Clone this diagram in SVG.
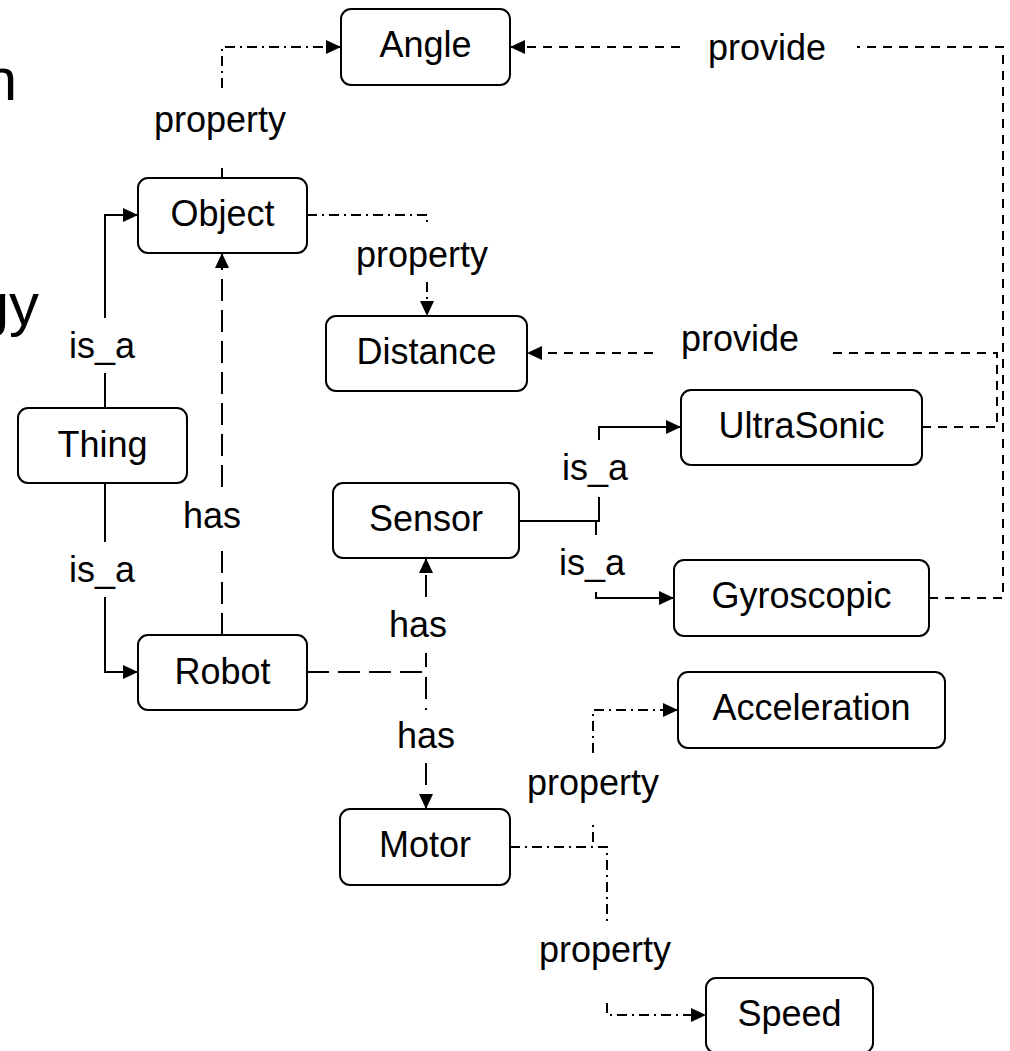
<svg xmlns="http://www.w3.org/2000/svg" width="1010" height="1051" viewBox="0 0 1010 1051">
  <style>
    text { font-family: "Liberation Sans", Arial, sans-serif; fill: #000; }
    .node rect { fill: #fff; stroke: #000; stroke-width: 2; }
    .node text { font-size: 36px; text-anchor: middle; }
    .lbl { font-size: 36px; text-anchor: middle; }
    .big { font-size: 60px; text-anchor: end; }
    .edge { fill: none; stroke: #000; stroke-width: 2; }
    .isa { }
    .has { stroke-dasharray: 22 9; }
    .provide { stroke-dasharray: 9 7; }
    .prop { stroke-dasharray: 10 5 2 5; }
  </style>
  <defs>
    <marker id="arrow" markerUnits="userSpaceOnUse" markerWidth="16" markerHeight="14" refX="15" refY="7" orient="auto">
      <path d="M0,0 L15,7 L0,14 z" fill="#000"/>
    </marker>
  </defs>

  <rect width="1010" height="1051" fill="#fff"/>

  <!-- heading fragments at the left edge -->
  <text class="big" x="17" y="100">n</text>
  <text class="big" x="39" y="325">gy</text>

  <g id="connectors">
    <!-- is_a -->
    <path class="edge isa" d="M105,408 V373 M105,318 V215 H138" marker-end="url(#arrow)"/>
    <path class="edge isa" d="M105,483 V542 M105,597 V672 H138" marker-end="url(#arrow)"/>
    <path class="edge isa" d="M519,521 H599 V497 M599,440 V427 H681" marker-end="url(#arrow)"/>
    <path class="edge isa" d="M519,521 H596 V535 M596,592 V598 H674" marker-end="url(#arrow)"/>
    <!-- has -->
    <path class="edge has" d="M222,635 V544 M222,487 V253" marker-end="url(#arrow)"/>
    <path class="edge has" d="M307,672 H426 V653 M426,597 V558" marker-end="url(#arrow)"/>
    <path class="edge has" d="M307,672 H426 V710 M426,763 V809" marker-end="url(#arrow)"/>
    <!-- property -->
    <path class="edge prop" d="M222,178 V167 M222,88 V47 H341" marker-end="url(#arrow)"/>
    <path class="edge prop" d="M307,215 H427 V222 M427,282 V316" marker-end="url(#arrow)"/>
    <path class="edge prop" d="M510,847 H593 V823 M593,753 V710 H678" marker-end="url(#arrow)"/>
    <path class="edge prop" d="M510,847 H607 V923 M607,1003 V1015 H706" marker-end="url(#arrow)"/>
    <!-- provide -->
    <path class="edge provide" d="M922,427 H997 V353 H828 M653,353 H527" marker-end="url(#arrow)"/>
    <path class="edge provide" d="M929,598 H1003 V47 H857 M680,47 H510" marker-end="url(#arrow)"/>

    <!-- connector labels -->
    <text class="lbl" x="102" y="358">is_a</text>
    <text class="lbl" x="102" y="582">is_a</text>
    <text class="lbl" x="595" y="480">is_a</text>
    <text class="lbl" x="592" y="575">is_a</text>
    <text class="lbl" x="212" y="528">has</text>
    <text class="lbl" x="418" y="637">has</text>
    <text class="lbl" x="426" y="748">has</text>
    <text class="lbl" x="220" y="132">property</text>
    <text class="lbl" x="422" y="267">property</text>
    <text class="lbl" x="593" y="795">property</text>
    <text class="lbl" x="605" y="962">property</text>
    <text class="lbl" x="767" y="60">provide</text>
    <text class="lbl" x="740" y="351">provide</text>
  </g>

  <g id="node-angle" class="node">
    <rect x="341" y="9" width="169" height="76" rx="10"/>
    <text x="425.5" y="57">Angle</text>
  </g>
  <g id="node-object" class="node">
    <rect x="138" y="178" width="169" height="75" rx="10"/>
    <text x="222.5" y="226">Object</text>
  </g>
  <g id="node-distance" class="node">
    <rect x="326" y="316" width="201" height="75" rx="10"/>
    <text x="426.5" y="364">Distance</text>
  </g>
  <g id="node-thing" class="node">
    <rect x="18" y="408" width="169" height="75" rx="10"/>
    <text x="102.5" y="457">Thing</text>
  </g>
  <g id="node-sensor" class="node">
    <rect x="333" y="483" width="186" height="75" rx="10"/>
    <text x="426" y="531">Sensor</text>
  </g>
  <g id="node-ultrasonic" class="node">
    <rect x="681" y="390" width="241" height="75" rx="10"/>
    <text x="801.5" y="438">UltraSonic</text>
  </g>
  <g id="node-gyroscopic" class="node">
    <rect x="674" y="560" width="255" height="76" rx="10"/>
    <text x="801.5" y="608">Gyroscopic</text>
  </g>
  <g id="node-robot" class="node">
    <rect x="138" y="635" width="169" height="75" rx="10"/>
    <text x="222.5" y="684">Robot</text>
  </g>
  <g id="node-acceleration" class="node">
    <rect x="678" y="672" width="267" height="76" rx="10"/>
    <text x="811.5" y="720">Acceleration</text>
  </g>
  <g id="node-motor" class="node">
    <rect x="340" y="809" width="170" height="76" rx="10"/>
    <text x="425" y="857">Motor</text>
  </g>
  <g id="node-speed" class="node">
    <rect x="706" y="978" width="167" height="75" rx="10"/>
    <text x="789.5" y="1026">Speed</text>
  </g>
</svg>
